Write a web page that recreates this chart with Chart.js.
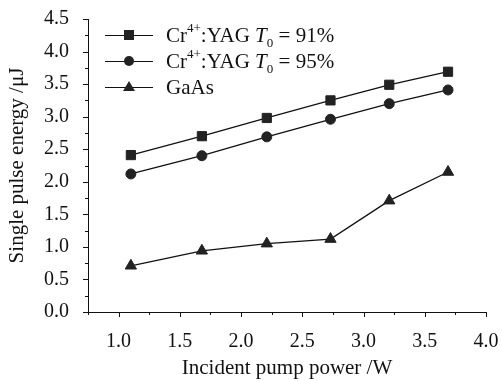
<!DOCTYPE html>
<html>
<head>
<meta charset="utf-8">
<script src="https://cdn.jsdelivr.net/npm/chart.js@4"></script>
<style>
  html, body { margin: 0; padding: 0; background: #fff; }
  #wrap { position: relative; width: 502px; height: 381px; }
  #legend { position: absolute; left: 105px; top: 22px; font-family: "Liberation Serif", "DejaVu Serif", serif; font-size: 21px; color: #111; }
  .row { position: relative; height: 26px; display: flex; align-items: center; white-space: nowrap; }
  .swatch { position: relative; width: 48px; height: 12px; margin-right: 13px; }
  .swatch::before { content: ''; position: absolute; left: 0; right: 0; top: 6px; border-top: 1.3px solid #111; }
  .mk { position: absolute; left: 50%; top: 50%; background: #222; }
  .mk.sq { width: 10px; height: 10px; margin: -5px 0 0 -5px; }
  .mk.ci { width: 10px; height: 10px; margin: -5px 0 0 -5px; border-radius: 50%; }
  .mk.tr { width: 0; height: 0; background: none; margin: -6px 0 0 -6px; border-left: 6px solid transparent; border-right: 6px solid transparent; border-bottom: 10px solid #222; }
  .sup { font-size: 13px; position: relative; top: -10px; }
  .sub { font-size: 13px; position: relative; top: 5px; }
</style>
</head>
<body>
<div id="wrap">
  <canvas id="chart" width="502" height="381"></canvas>
  <div id="legend">
    <div class="row"><span class="swatch"><span class="mk sq"></span></span><span>Cr<span class="sup">4+</span>:YAG <i>T</i><span class="sub">0</span> = 91%</span></div>
    <div class="row"><span class="swatch"><span class="mk ci"></span></span><span>Cr<span class="sup">4+</span>:YAG <i>T</i><span class="sub">0</span> = 95%</span></div>
    <div class="row"><span class="swatch"><span class="mk tr"></span></span><span>GaAs</span></div>
  </div>
</div>
<script>
// incident pump power (W)
const pumpPower = [1.1, 1.68, 2.21, 2.73, 3.21, 3.69]

// single pulse energy (uJ)
const yag91 = [2.41, 2.70, 2.98, 3.25, 3.49, 3.69]
const yag95 = [2.12, 2.40, 2.69, 2.96, 3.20, 3.41]
const gaas = [0.71, 0.94, 1.05, 1.12, 1.71, 2.15]

const xTitle = 'Incident pump power /W'
const yTitle = 'Single pulse energy /\u03bcJ'

const ink = '#111'
const markerInk = '#222'
const serif = '"Liberation Serif", "DejaVu Serif", serif'

const toPoints = (ys) => pumpPower.map((x, i) => ({x: x, y: ys[i]}))

const isMajor = (v) => Math.abs(v * 2 - Math.round(v * 2)) < 1e-6

// draws outward tick marks, minor ones shorter
const axisTicks = {
    id: 'axisTicks',
    afterDraw(chart) {
        const ctx = chart.ctx
        const {left, bottom} = chart.chartArea
        const xs = chart.scales.x
        const ys = chart.scales.y
        ctx.save()
        ctx.strokeStyle = ink
        ctx.lineWidth = 1
        ctx.beginPath()
        xs.ticks.forEach((t) => {
            const px = Math.round(xs.getPixelForValue(t.value)) + 0.5
            const len = isMajor(t.value) ? 5 : 3
            ctx.moveTo(px, bottom)
            ctx.lineTo(px, bottom + len)
        })
        ys.ticks.forEach((t) => {
            const py = Math.round(ys.getPixelForValue(t.value)) + 0.5
            const len = isMajor(t.value) ? 5 : 3
            ctx.moveTo(left, py)
            ctx.lineTo(left - len, py)
        })
        ctx.stroke()
        ctx.restore()
    }
}

const mkSet = (label, ys, style, radius) => ({
    label: label,
    data: toPoints(ys),
    borderColor: ink,
    borderWidth: 1.3,
    backgroundColor: markerInk,
    pointStyle: style,
    pointRadius: radius,
    pointHoverRadius: radius,
    pointBackgroundColor: markerInk,
    pointBorderColor: markerInk,
    pointBorderWidth: 1,
    tension: 0
})

new Chart(document.getElementById('chart').getContext('2d'), {
    type: 'line',
    data: {
        datasets: [
            mkSet('Cr4+:YAG T0 = 91%', yag91, 'rect', 6.5),
            mkSet('Cr4+:YAG T0 = 95%', yag95, 'circle', 5),
            mkSet('GaAs', gaas, 'triangle', 6.5)
        ]
    },
    options: {
        responsive: false,
        animation: false,
        layout: {padding: {top: 19, right: 16, left: 0, bottom: 0}},
        plugins: {legend: {display: false}, tooltip: {enabled: false}},
        scales: {
            x: {
                type: 'linear',
                min: 0.75,
                max: 4.0,
                afterFit: (s) => { s.height = 69 },
                border: {display: true, color: ink, width: 1},
                // invisible tick marks only push the labels away; real ticks come from the plugin
                grid: {drawOnChartArea: false, drawTicks: true, tickLength: 15, tickColor: 'rgba(0,0,0,0)'},
                ticks: {
                    stepSize: 0.25,
                    autoSkip: false,
                    maxRotation: 0,
                    padding: 3,
                    color: ink,
                    font: {family: serif, size: 20},
                    callback: (v) => isMajor(v) && v >= 1 ? v.toFixed(1) : ''
                },
                title: {display: true, text: xTitle, color: ink, font: {family: serif, size: 21}, padding: {top: 0, bottom: 0}}
            },
            y: {
                min: 0,
                max: 4.5,
                afterFit: (s) => { s.width = 88 },
                border: {display: true, color: ink, width: 1},
                grid: {drawOnChartArea: false, drawTicks: true, tickLength: 16, tickColor: 'rgba(0,0,0,0)'},
                ticks: {
                    stepSize: 0.25,
                    autoSkip: false,
                    padding: 3,
                    color: ink,
                    font: {family: serif, size: 20},
                    callback: (v) => isMajor(v) ? v.toFixed(1) : ''
                },
                title: {display: true, text: yTitle, color: ink, font: {family: serif, size: 21}, padding: {top: 5, bottom: 0}}
            }
        }
    },
    plugins: [axisTicks]
})
</script>
</body>
</html>
